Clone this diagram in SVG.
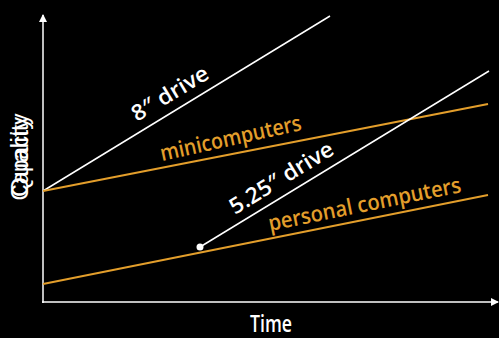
<svg xmlns="http://www.w3.org/2000/svg" width="499" height="338" viewBox="0 0 499 338">
<style>
.w{stroke:#fff;stroke-width:1.5;fill:none}
.o{stroke:#E39E2B;stroke-width:2.2;fill:none}
.lw{fill:#fff;font-family:"Open Sans","DejaVu Sans",sans-serif;font-size:22px;font-weight:600}
.lo{fill:#E39E2B;font-family:"Open Sans","DejaVu Sans",sans-serif;font-size:22px;font-weight:600}
.ax{fill:#fff;font-family:"Liberation Sans",Arial,sans-serif;font-size:23px}
.tm{fill:#fff;font-family:"Open Sans","Liberation Sans",sans-serif;font-size:23px;font-weight:600}
</style>
<defs>
<marker id="ah" markerWidth="8" markerHeight="8" refX="7" refY="4" orient="auto" markerUnits="userSpaceOnUse">
<path d="M0,0 L8,4 L0,8 Z" fill="#fff"/>
</marker>
</defs>
<rect width="499" height="338" fill="#000"/>
<g id="axes">
<line x1="43" y1="303" x2="43" y2="15" stroke="#fff" stroke-width="1.5" marker-end="url(#ah)"/>
<line x1="42" y1="302" x2="498" y2="302" stroke="#fff" stroke-width="1.5" marker-end="url(#ah)"/>
<text class="tm" x="250" y="332" textLength="42" lengthAdjust="spacingAndGlyphs">Time</text>
<text class="ax" transform="translate(28,157) rotate(-90)" text-anchor="middle" textLength="87" lengthAdjust="spacingAndGlyphs">Capacity</text>
<text class="ax" transform="translate(28,157) rotate(-90)" text-anchor="middle" textLength="80" lengthAdjust="spacingAndGlyphs">Quality</text>
</g>
<g id="connectors">
<line class="w" x1="43" y1="191" x2="330" y2="16"/>
<line class="o" x1="43" y1="191" x2="488" y2="104"/>
<line class="w" x1="200" y1="247" x2="489" y2="71"/>
<line class="o" x1="43" y1="284" x2="488" y2="195"/>
<circle cx="200" cy="247" r="3.5" fill="#fff"/>
</g>
<g id="n8drive"><text class="lw" transform="translate(137,122) rotate(-31)" textLength="86" lengthAdjust="spacingAndGlyphs">8″ drive</text></g>
<g id="nmini"><text class="lo" transform="translate(162,161) rotate(-12.5)" textLength="144" lengthAdjust="spacingAndGlyphs">minicomputers</text></g>
<g id="n525"><text class="lw" transform="translate(235,215) rotate(-31.5)" textLength="118" lengthAdjust="spacingAndGlyphs">5.25″ drive</text></g>
<g id="npc"><text class="lo" transform="translate(270,231) rotate(-11.5)" textLength="196" lengthAdjust="spacingAndGlyphs">personal computers</text></g>
</svg>
